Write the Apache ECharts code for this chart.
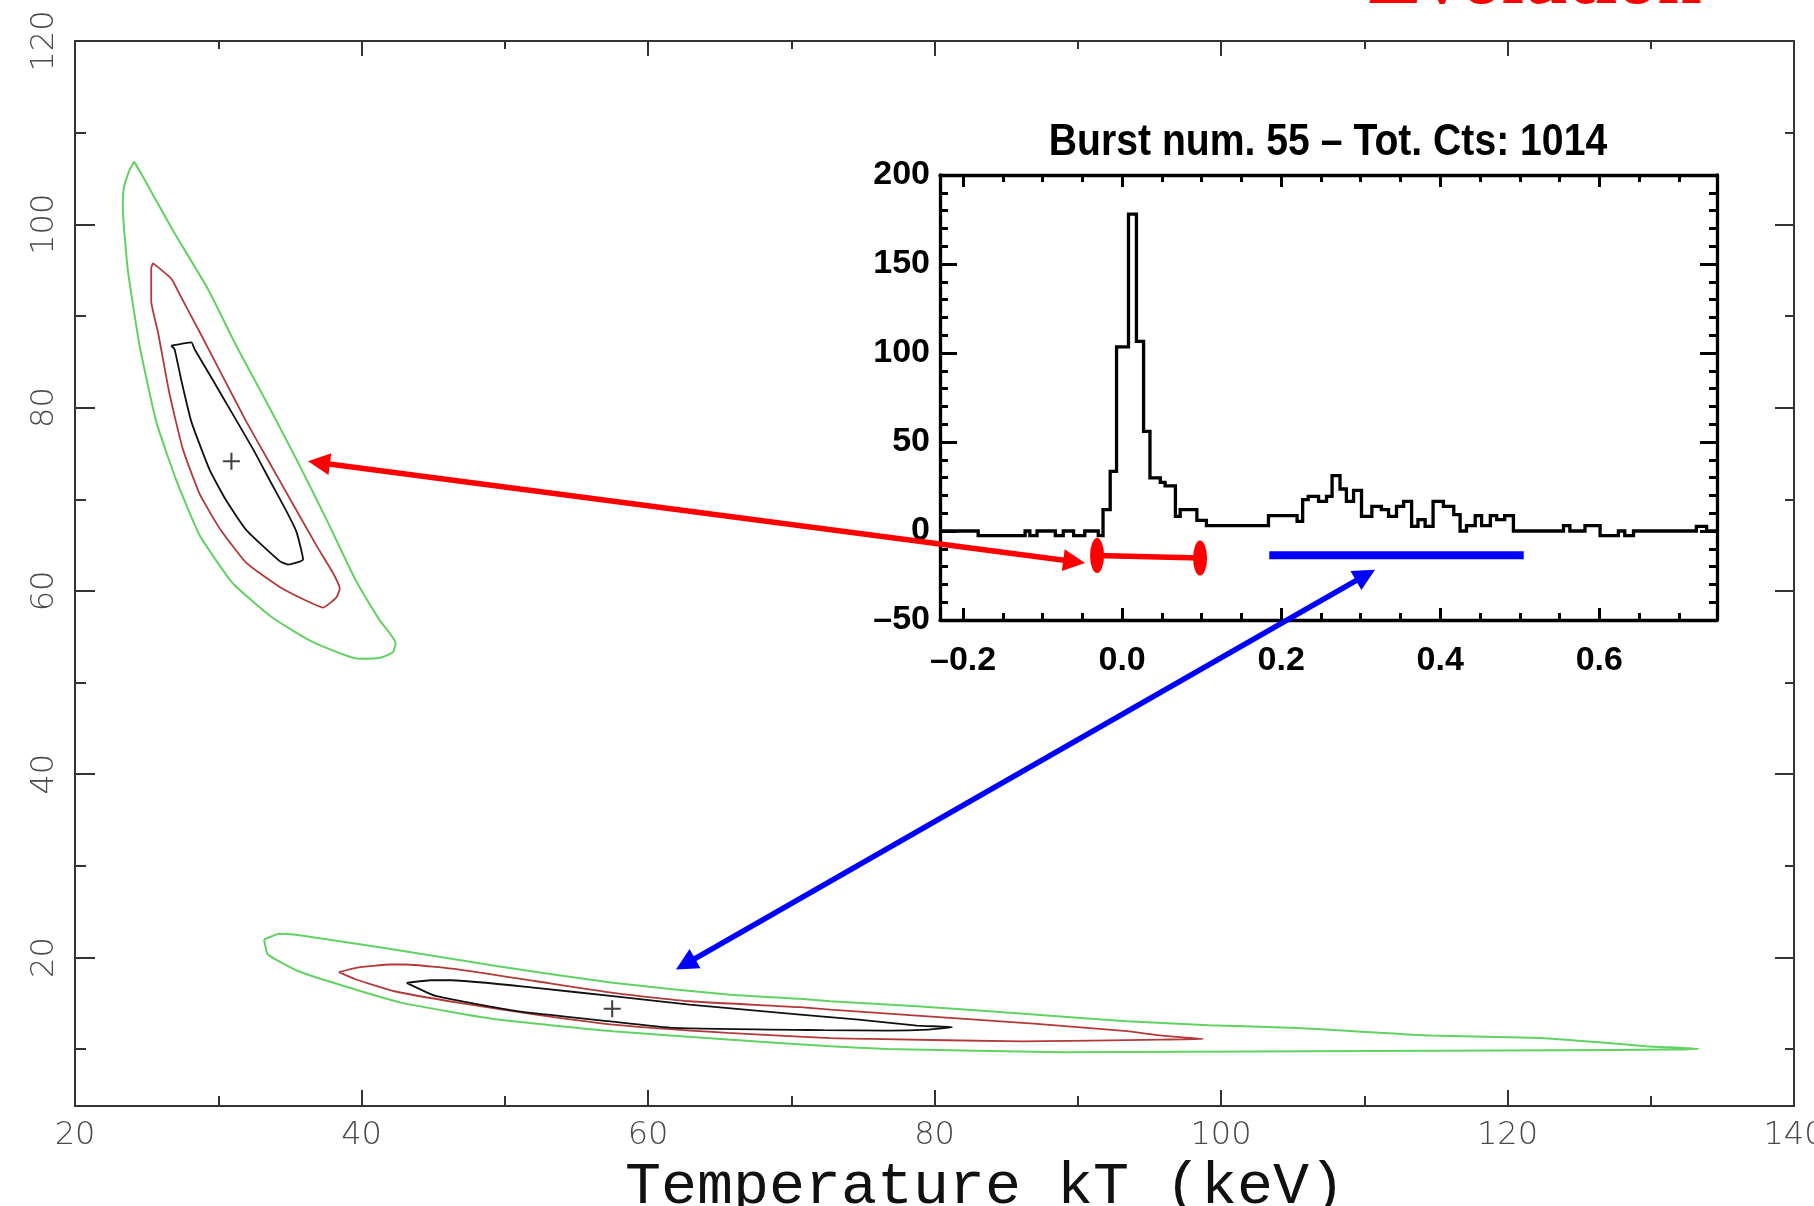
<!DOCTYPE html>
<html>
<head>
<meta charset="utf-8">
<script src="https://cdn.jsdelivr.net/npm/echarts@6/dist/echarts.min.js"></script>
<style>
  html, body { margin: 0; padding: 0; background: #ffffff; }
  #chart { width: 1814px; height: 1206px; }
</style>
</head>
<body>
<div id="chart"></div>
<script>
// ---- Spectral fit confidence contours (kT in keV vs. second fit parameter) ----
// Early interval (initial spike)
const earlyGreen = [[24.12,106.84],[24.6,105.6],[26.87,99.24],[29.29,92.91],[31.31,86.58],[33.49,80.25],[35.6,73.92],[37.62,67.59],[39.56,61.27],[41.25,56.84],[42.38,54.3],[42.2,53.3],[41.3,52.7],[39.8,52.6],[36.62,54.41],[33.82,57.04],[31.03,60.81],[28.7,66.07],[27.07,72.08],[25.67,78.47],[24.51,86.75],[23.69,95.01],[23.34,101.78],[23.4,103.9],[23.75,105.7],[24.12,106.84]];
const earlyRed = [[25.44,95.76],[26.72,94.07],[27.3,92.38],[28.7,88.25],[30.33,83.36],[31.96,78.47],[33.59,73.96],[35.22,69.45],[36.86,64.94],[38.02,61.93],[38.48,60.24],[38.25,59.3],[37.32,58.18],[36.15,58.93],[34.29,60.43],[31.96,63.06],[30.1,66.82],[28.7,70.58],[27.53,75.47],[26.6,81.48],[25.79,88.25],[25.32,91.64],[25.32,95.2],[25.44,95.76]];
const earlyBlack = [[26.72,86.75],[28.12,87.12],[28.35,86.37],[29.63,82.99],[31.03,79.23],[32.43,75.47],[33.59,72.08],[34.76,68.7],[35.46,66.44],[35.92,63.44],[34.87,62.87],[34.29,63.25],[31.96,66.64],[30.57,69.83],[29.4,73.21],[28.12,78.47],[27.42,82.99],[26.95,86.37],[26.72,86.75]];
const earlyBest = [30.92, 74.15];

// Late interval (extended emission)
const lateGreen = [[33.2,21.97],[34.28,22.59],[36.14,22.33],[41.5,21.06],[49.52,19.05],[57.54,17.24],[65.56,15.96],[70.63,15.49],[72.73,15.23],[78.78,14.69],[86.93,13.78],[93.44,13.05],[99.14,12.61],[105.26,12.32],[109.33,11.96],[114.63,11.48],[122.36,11.23],[126.84,10.69],[129.69,10.32],[133.36,10.03],[131.33,9.96],[123.58,9.89],[88.96,9.66],[76.74,10.03],[72.73,10.32],[65.56,11.05],[57.54,11.96],[49.52,13.23],[42.83,15.05],[38.82,16.87],[35.61,18.5],[33.47,20.33],[33.2,21.97]];
const lateRed = [[38.42,18.4],[39.62,18.88],[42.03,19.24],[43.1,19.24],[46.84,18.69],[52.19,17.41],[57.54,16.14],[62.89,15.23],[70.63,14.58],[72.73,14.32],[78.78,13.67],[86.93,12.79],[93.44,11.96],[95.88,11.48],[98.74,11.12],[95.88,11.05],[86.11,10.86],[75.52,11.12],[72.73,11.2],[65.56,11.78],[57.54,12.69],[52.19,13.78],[46.84,15.05],[42.3,16.32],[39.62,17.6],[38.42,18.4]];
const lateBlack = [[43.15,17.24],[44.84,17.52],[46.31,17.52],[52.19,16.69],[57.54,15.78],[62.89,14.87],[70.63,13.78],[74.7,13.23],[78.78,12.58],[81.22,12.4],[79.59,12.14],[76.74,12.03],[72.26,12.07],[61.82,12.32],[57.27,13.05],[50.85,14.14],[45.24,15.78],[43.15,17.24]];
const lateBest = [57.5, 14.4];

// ---- Light curve of burst 55 (time in s, background-subtracted counts) ----
const binStarts = [-0.229,-0.181,-0.122,-0.116,-0.107,-0.084,-0.074,-0.061,-0.047,-0.030,-0.024,-0.015,-0.007,0.008,0.018,0.027,0.035,0.048,0.054,0.067,0.073,0.094,0.106,0.184,0.220,0.227,0.234,0.247,0.257,0.264,0.274,0.282,0.291,0.301,0.314,0.326,0.335,0.345,0.354,0.364,0.372,0.381,0.391,0.404,0.417,0.425,0.433,0.444,0.452,0.463,0.471,0.481,0.492,0.555,0.563,0.582,0.601,0.624,0.632,0.643,0.722,0.735];
const binCounts = [0,-2.6,0,-2.6,0,-2.6,0,-2.6,0,-2.6,12,33.5,103.4,178,106.5,56,29.8,27.3,25.4,8.2,12,6,3,8.6,5.4,17.6,19.5,16.6,19.5,31.1,23.6,16.6,22.8,8.2,13.8,12,8.2,13.8,16.6,2.6,6.4,2.6,16.6,13.8,9.2,0,3,8.6,3,8.6,6.4,8.6,0,3,0,3,-2.6,0,-2.6,0,2.6,0];
const lcEnd = 0.748;

// Time intervals used for the two spectra (light-curve coordinates)
const spikeInterval = [[-0.0315, -13.8], [0.098, -15.2]];
const tailInterval = [[0.185, -13.6], [0.505, -13.6]];

// Arrow ends: contour side in (kT, param), light-curve side in (t, counts)
const spikeArrow = { contour: [36.27, 74.15], curve: [-0.0466, -18] };
const tailArrow = { contour: [61.95, 18.69], curve: [0.318, -21.7] };

// ---- Tick values ----
const kTTicks = [20, 40, 60, 80, 100, 120, 140];
const paramMajor = [20, 40, 60, 80, 100, 120];
const paramMinor = [10, 30, 50, 70, 90, 110];
const timeMajor = [-0.2, 0, 0.2, 0.4, 0.6];
const timeMinor = [-0.15, -0.1, -0.05, 0.05, 0.1, 0.15, 0.25, 0.3, 0.35, 0.45, 0.5, 0.55, 0.65, 0.7];

const TXT = '#4a4a4a';
const AX = '#333333';
const PIX = '"Liberation Sans", Arial, sans-serif';

const histData = binStarts.map((t, i) => [t, binCounts[i]]);
histData.push([lcEnd, binCounts[binCounts.length - 1]]);

function mainYAxis(pos, values, len, withLabels, showLine) {
  return {
    type: 'value', gridIndex: 0, position: pos, min: 3.8, max: 120,
    axisLine: { show: showLine, onZero: false, lineStyle: { color: AX, width: 2 } },
    axisTick: { show: true, inside: true, length: len, customValues: values, lineStyle: { color: AX, width: 2 } },
    axisLabel: withLabels ? {
      show: true, customValues: values, rotate: 90, margin: 14,
      fontFamily: 'DejaVu Sans', fontSize: 32, fontWeight: 200, color: TXT
    } : { show: false },
    splitLine: { show: false }
  };
}

function insetXAxis(pos, values, len, withLabels, showLine) {
  return {
    type: 'value', gridIndex: 1, position: pos, min: -0.229, max: 0.748,
    axisLine: { show: showLine, onZero: false, lineStyle: { color: '#000', width: 3.3 } },
    axisTick: { show: true, inside: true, length: len, customValues: values, lineStyle: { color: '#000', width: 3 } },
    axisLabel: withLabels ? {
      show: true, customValues: values, margin: 24,
      formatter: v => v.toFixed(1).replace('-', '\u2013'),
      fontFamily: PIX, fontWeight: 'bold', fontSize: 34, color: '#000'
    } : { show: false },
    splitLine: { show: false }
  };
}

function insetYAxis(pos, withLabels) {
  return {
    type: 'value', gridIndex: 1, position: pos, min: -50, max: 200, interval: 50,
    axisLine: { show: true, onZero: false, lineStyle: { color: '#000', width: 3.3 } },
    axisTick: { show: true, inside: true, length: 17, lineStyle: { color: '#000', width: 3 } },
    minorTick: { show: true, splitNumber: 5, length: 8, lineStyle: { color: '#000', width: 3 } },
    axisLabel: withLabels ? {
      show: true, margin: 10,
      formatter: v => String(v).replace('-', '\u2013'),
      fontFamily: PIX, fontWeight: 'bold', fontSize: 34, color: '#000'
    } : { show: false },
    splitLine: { show: false }
  };
}

function contour(data, color, width) {
  return {
    type: 'line', xAxisIndex: 0, yAxisIndex: 0, data: data,
    showSymbol: false, symbol: 'none', smooth: 0.15, animation: false,
    lineStyle: { color: color, width: width }, z: 3, silent: true
  };
}

const plusPath = 'path://M4.4,0h1.2v10h-1.2z M0,4.4h10v1.2h-10z';
const ellipsePath = 'path://M0,50 A50,50 0 1,1 100,50 A50,50 0 1,1 0,50 Z';

const option = {
  backgroundColor: '#ffffff',
  animation: false,
  grid: [
    { left: 75, top: 41, right: 20, bottom: 100, containLabel: false, outerBoundsMode: 'none' },
    { left: 940, top: 175, width: 777, height: 445, containLabel: false, outerBoundsMode: 'none' }
  ],
  xAxis: [
    {
      type: 'value', gridIndex: 0, position: 'bottom', min: 20, max: 140, interval: 20,
      axisLine: { onZero: false, lineStyle: { color: AX, width: 2 } },
      axisTick: { inside: true, length: 16, lineStyle: { color: AX, width: 2 } },
      minorTick: { show: true, splitNumber: 2, length: 10, lineStyle: { color: AX, width: 2 } },
      axisLabel: { margin: 14, fontFamily: 'DejaVu Sans', fontSize: 32, fontWeight: 200, color: TXT,
                   customValues: kTTicks },
      splitLine: { show: false }
    },
    {
      type: 'value', gridIndex: 0, position: 'top', min: 20, max: 140, interval: 20,
      axisLine: { onZero: false, lineStyle: { color: AX, width: 2 } },
      axisTick: { inside: true, length: 15, lineStyle: { color: AX, width: 2 } },
      minorTick: { show: true, splitNumber: 2, length: 8, lineStyle: { color: AX, width: 2 } },
      axisLabel: { show: false },
      splitLine: { show: false }
    },
    insetXAxis('bottom', timeMajor, 12, true, true),
    insetXAxis('bottom', timeMinor, 7, false, false),
    insetXAxis('top', timeMajor, 12, false, true),
    insetXAxis('top', timeMinor, 7, false, false)
  ],
  yAxis: [
    mainYAxis('left', paramMajor, 20, true, true),
    mainYAxis('left', paramMinor, 11, false, false),
    mainYAxis('right', paramMajor, 19, false, true),
    mainYAxis('right', paramMinor, 9, false, false),
    insetYAxis('left', true),
    insetYAxis('right', false)
  ],
  graphic: [
    {
      type: 'text', z: 50,
      style: { x: 1535, y: -18, text: 'Evolution', fill: '#ff0000',
               font: 'bold 80px "Liberation Serif", "DejaVu Serif", serif',
               align: 'center', verticalAlign: 'middle' }
    },
    {
      type: 'text', z: 50,
      style: { x: 985, y: 1187, text: 'Temperature kT (keV)', fill: '#111',
               font: '60px "Liberation Mono", "DejaVu Sans Mono", monospace',
               align: 'center', verticalAlign: 'middle' }
    },
    {
      type: 'text', z: 50, x: 1328, y: 143, scaleX: 0.87,
      style: { x: 0, y: 0, text: 'Burst num. 55 \u2013 Tot. Cts: 1014', fill: '#000',
               font: 'bold 45px ' + PIX,
               align: 'center', verticalAlign: 'middle' }
    }
  ],
  series: [
    contour(earlyGreen, '#62d262', 2),
    contour(earlyRed, '#b33a3a', 1.8),
    contour(earlyBlack, '#111111', 1.8),
    contour(lateGreen, '#62d262', 2),
    contour(lateRed, '#b33a3a', 1.8),
    contour(lateBlack, '#111111', 1.8),
    {
      type: 'scatter', xAxisIndex: 0, yAxisIndex: 0,
      data: [earlyBest, lateBest], symbol: plusPath, symbolSize: 17,
      itemStyle: { color: '#111' }, z: 4, silent: true
    },
    {
      type: 'line', xAxisIndex: 2, yAxisIndex: 4, data: histData, step: 'end',
      showSymbol: false, symbol: 'none', clip: true,
      lineStyle: { color: '#000', width: 3.3, join: 'miter' }, z: 3, silent: true
    },
    {
      type: 'line', xAxisIndex: 2, yAxisIndex: 4, data: spikeInterval,
      symbol: ellipsePath, symbolSize: [14, 35], showSymbol: true, showAllSymbol: true,
      itemStyle: { color: '#ff0000' },
      lineStyle: { color: '#ff0000', width: 5.5 }, z: 6, silent: true
    },
    {
      type: 'line', xAxisIndex: 2, yAxisIndex: 4, data: tailInterval,
      showSymbol: false, symbol: 'none',
      lineStyle: { color: '#0000ff', width: 8, cap: 'butt' }, z: 6, silent: true
    }
  ]
};

const chart = echarts.init(document.getElementById('chart'), null, { renderer: 'canvas' });
chart.setOption(option);

// Double-headed arrows linking each light-curve interval to its contour
function arrow(id, a, b, color, width, len, half) {
  const dx = b[0] - a[0], dy = b[1] - a[1];
  const L = Math.hypot(dx, dy), ux = dx / L, uy = dy / L, nx = -uy, ny = ux;
  const head = (tip, dir) => {
    const bx = tip[0] - dir * ux * len, by = tip[1] - dir * uy * len;
    return [[tip[0], tip[1]], [bx + nx * half, by + ny * half], [bx - nx * half, by - ny * half]];
  };
  return {
    type: 'group', id: id, z: 60,
    children: [
      { type: 'line', z: 60, shape: { x1: a[0] + ux * len * 0.7, y1: a[1] + uy * len * 0.7,
                               x2: b[0] - ux * len * 0.7, y2: b[1] - uy * len * 0.7 },
        style: { stroke: color, lineWidth: width } },
      { type: 'polygon', z: 60, shape: { points: head(b, 1) }, style: { fill: color } },
      { type: 'polygon', z: 60, shape: { points: head(a, -1) }, style: { fill: color } }
    ]
  };
}

const redA = chart.convertToPixel({ seriesIndex: 0 }, spikeArrow.contour);
const redB = chart.convertToPixel({ seriesIndex: 7 }, spikeArrow.curve);
const blueA = chart.convertToPixel({ seriesIndex: 3 }, tailArrow.contour);
const blueB = chart.convertToPixel({ seriesIndex: 7 }, tailArrow.curve);

chart.setOption({
  graphic: option.graphic.concat([
    arrow('spikeArrow', redA, redB, '#ff0000', 5.5, 22, 11),
    arrow('tailArrow', blueA, blueB, '#0000ff', 5.5, 22, 11)
  ])
});
</script>
</body>
</html>
